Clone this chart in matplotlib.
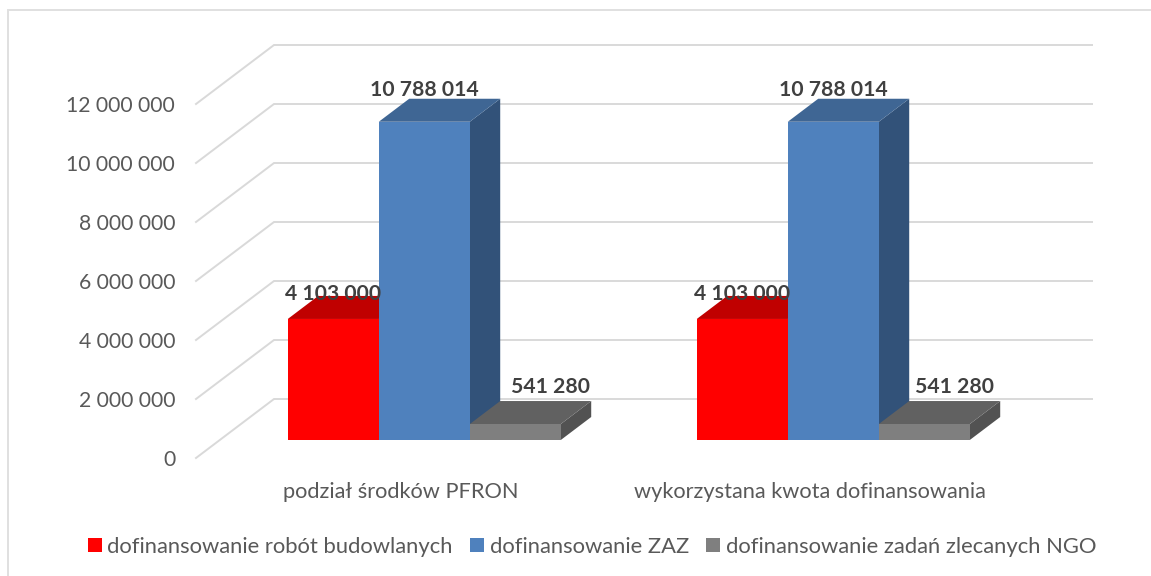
import matplotlib
matplotlib.use('Agg')
import matplotlib.pyplot as plt
from matplotlib.lines import Line2D
from matplotlib.patches import Patch, Polygon

plt.rcParams['font.family'] = ['Lato', 'DejaVu Sans']

# Chart data
categories = ['podział środków PFRON', 'wykorzystana kwota dofinansowania']
series_names = ['dofinansowanie robót budowlanych', 'dofinansowanie ZAZ', 'dofinansowanie zadań zlecanych NGO']
robot_values = [4103000, 4103000]
zaz_values = [10788014, 10788014]
ngo_values = [541280, 541280]
value_labels = [['4 103 000', '4 103 000'], ['10 788 014', '10 788 014'], ['541 280', '541 280']]
y_ticks = [0, 2000000, 4000000, 6000000, 8000000, 10000000, 12000000]
y_tick_labels = ['0', '2 000 000', '4 000 000', '6 000 000', '8 000 000', '10 000 000', '12 000 000']

# Colours: front, top, side
front_colors = ['#FF0000', '#4F81BD', '#7F7F7F']
top_colors = ['#C00000', '#3F6694', '#616161']
side_colors = ['#C00000', '#325279', '#525252']

# Fake 3D: how far the back wall is shifted from the front plane
depth_x = 78 / 409
depth_y = 2000000
bar_width = 91 / 409
bar_near = 0.305
bar_far = 0.695


def shift(x, y, d):
    return (x + d * depth_x, y + d * depth_y)


fig = plt.figure(figsize=(11.51, 5.76), dpi=100)
ax = fig.add_axes([196 / 1151, (576 - 458) / 576, 818 / 1151, 354 / 576])
ax.set_xlim(0, 2)
ax.set_ylim(0, 12000000)
ax.patch.set_visible(False)
for s in ax.spines.values():
    s.set_visible(False)

# Chart border, only left and top show in the picture
fig.add_artist(Line2D([8 / 1151, 8 / 1151, 1], [0, (576 - 9.5) / 576, (576 - 9.5) / 576],
                      transform=fig.transFigure, color='#E0E0E0', linewidth=1.4, solid_joinstyle='miter'))

# Gridlines on the side and back wall
for v in y_ticks:
    p0 = shift(0, v, 0)
    p1 = shift(0, v, 1)
    p2 = shift(2, v, 1)
    ax.plot([p0[0], p1[0], p2[0]], [p0[1], p1[1], p2[1]], color='#D9D9D9', linewidth=1.4,
            clip_on=False, solid_joinstyle='miter', zorder=1)


def draw_bar(left, value, i):
    right = left + bar_width
    corners_front = [shift(left, 0, bar_near), shift(right, 0, bar_near),
                     shift(right, value, bar_near), shift(left, value, bar_near)]
    corners_top = [shift(left, value, bar_near), shift(right, value, bar_near),
                   shift(right, value, bar_far), shift(left, value, bar_far)]
    corners_side = [shift(right, 0, bar_near), shift(right, 0, bar_far),
                    shift(right, value, bar_far), shift(right, value, bar_near)]
    for pts, c, z in [(corners_side, side_colors[i], 2), (corners_top, top_colors[i], 2),
                      (corners_front, front_colors[i], 3)]:
        ax.add_patch(Polygon(pts, closed=True, facecolor=c, edgecolor='none', clip_on=False, zorder=z))


all_values = [robot_values, zaz_values, ngo_values]
label_offsets = [[(0, 26), (0, 26)], [(0, 33), (0, 33)], [(35, 38), (30, 38)]]

for g in range(len(categories)):
    for i in range(3):
        left = g + 0.5 + (i - 1.5) * bar_width
        draw_bar(left, all_values[i][g], i)
        cx, cy = shift(left + bar_width / 2, all_values[i][g], bar_near)
        dx, dy = label_offsets[i][g]
        ax.annotate(value_labels[i][g], (cx, cy), xytext=(dx * 0.72, dy * 0.72 - 0.8), textcoords='offset points',
                    ha='center', va='center', fontsize=15.2, fontweight='bold', color='#404040', zorder=6,
                    annotation_clip=False)

ax.set_yticks(y_ticks)
ax.set_yticklabels(y_tick_labels, fontsize=15.2, color='#595959', va='center_baseline')
ax.set_xticks([0.5, 1.5])
ax.set_xticklabels(categories, fontsize=15.7, color='#595959')
ax.tick_params(axis='y', length=0, pad=15)
ax.tick_params(axis='x', length=0, pad=17)

handles = [Patch(facecolor=c, edgecolor='none', label=n) for c, n in zip(front_colors, series_names)]
fig.legend(handles=handles, loc='center', bbox_to_anchor=(592 / 1151, (576 - 547) / 576), ncol=3,
           frameon=False, fontsize=15.8, labelcolor='#595959', handlelength=0.63, handleheight=0.63,
           handletextpad=0.25, columnspacing=0.8, borderpad=0)

fig.savefig('out.png', dpi=100)
